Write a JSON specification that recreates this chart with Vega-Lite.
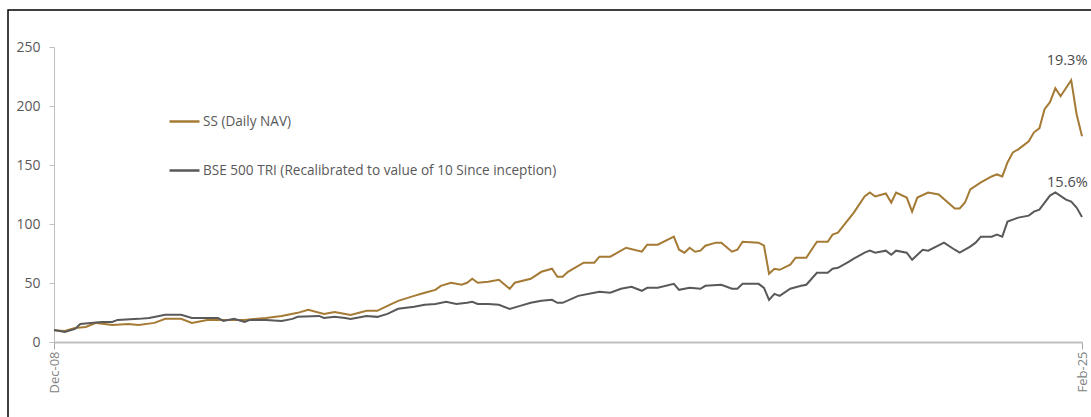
{
  "$schema": "https://vega.github.io/schema/vega-lite/v6.json",
  "autosize": "none",
  "width": 1085,
  "height": 409,
  "padding": {"left": 8, "top": 10, "right": -2, "bottom": -2},
  "background": "#ffffff",
  "config": {
    "view": {"stroke": "#000000", "strokeWidth": 1.5},
    "font": "Open Sans",
    "axis": {"labelFont": "Open Sans", "grid": false, "title": null},
    "legend": {"labelFont": "Open Sans"},
    "text": {"font": "Open Sans"}
  },
  "datasets": {
    "lines": [
      {"date": "2008-12-01", "series": "SS (Daily NAV)", "value": 10},
      {"date": "2009-02-01", "series": "SS (Daily NAV)", "value": 9.4},
      {"date": "2009-04-01", "series": "SS (Daily NAV)", "value": 11.9},
      {"date": "2009-06-01", "series": "SS (Daily NAV)", "value": 12.8},
      {"date": "2009-08-01", "series": "SS (Daily NAV)", "value": 16.2},
      {"date": "2009-11-01", "series": "SS (Daily NAV)", "value": 14.5},
      {"date": "2010-02-01", "series": "SS (Daily NAV)", "value": 15.3},
      {"date": "2010-04-01", "series": "SS (Daily NAV)", "value": 14.5},
      {"date": "2010-07-01", "series": "SS (Daily NAV)", "value": 16.2},
      {"date": "2010-09-01", "series": "SS (Daily NAV)", "value": 19.6},
      {"date": "2010-12-01", "series": "SS (Daily NAV)", "value": 19.6},
      {"date": "2011-02-01", "series": "SS (Daily NAV)", "value": 16.2},
      {"date": "2011-05-01", "series": "SS (Daily NAV)", "value": 18.7},
      {"date": "2011-07-01", "series": "SS (Daily NAV)", "value": 18.7},
      {"date": "2011-10-01", "series": "SS (Daily NAV)", "value": 18.7},
      {"date": "2011-12-01", "series": "SS (Daily NAV)", "value": 18.7},
      {"date": "2012-04-01", "series": "SS (Daily NAV)", "value": 20.4},
      {"date": "2012-07-01", "series": "SS (Daily NAV)", "value": 22.1},
      {"date": "2012-10-01", "series": "SS (Daily NAV)", "value": 24.7},
      {"date": "2012-12-01", "series": "SS (Daily NAV)", "value": 27.2},
      {"date": "2013-03-01", "series": "SS (Daily NAV)", "value": 23.8},
      {"date": "2013-05-01", "series": "SS (Daily NAV)", "value": 25.5},
      {"date": "2013-08-01", "series": "SS (Daily NAV)", "value": 23.0},
      {"date": "2013-11-01", "series": "SS (Daily NAV)", "value": 26.4},
      {"date": "2014-01-01", "series": "SS (Daily NAV)", "value": 26.4},
      {"date": "2014-03-01", "series": "SS (Daily NAV)", "value": 30.6},
      {"date": "2014-05-01", "series": "SS (Daily NAV)", "value": 34.9},
      {"date": "2014-08-01", "series": "SS (Daily NAV)", "value": 39.1},
      {"date": "2014-10-01", "series": "SS (Daily NAV)", "value": 41.7},
      {"date": "2014-12-01", "series": "SS (Daily NAV)", "value": 44.2},
      {"date": "2015-01-01", "series": "SS (Daily NAV)", "value": 47.6},
      {"date": "2015-03-01", "series": "SS (Daily NAV)", "value": 50.2},
      {"date": "2015-05-01", "series": "SS (Daily NAV)", "value": 48.5},
      {"date": "2015-06-01", "series": "SS (Daily NAV)", "value": 50.2},
      {"date": "2015-07-01", "series": "SS (Daily NAV)", "value": 53.6},
      {"date": "2015-08-01", "series": "SS (Daily NAV)", "value": 50.2},
      {"date": "2015-10-01", "series": "SS (Daily NAV)", "value": 51.0},
      {"date": "2015-12-01", "series": "SS (Daily NAV)", "value": 52.7},
      {"date": "2016-02-01", "series": "SS (Daily NAV)", "value": 45.1},
      {"date": "2016-03-01", "series": "SS (Daily NAV)", "value": 50.2},
      {"date": "2016-06-01", "series": "SS (Daily NAV)", "value": 53.6},
      {"date": "2016-08-01", "series": "SS (Daily NAV)", "value": 59.5},
      {"date": "2016-10-01", "series": "SS (Daily NAV)", "value": 62.1},
      {"date": "2016-11-01", "series": "SS (Daily NAV)", "value": 55.3},
      {"date": "2016-12-01", "series": "SS (Daily NAV)", "value": 55.3},
      {"date": "2017-01-01", "series": "SS (Daily NAV)", "value": 59.5},
      {"date": "2017-04-01", "series": "SS (Daily NAV)", "value": 67.2},
      {"date": "2017-06-01", "series": "SS (Daily NAV)", "value": 67.2},
      {"date": "2017-07-01", "series": "SS (Daily NAV)", "value": 72.3},
      {"date": "2017-09-01", "series": "SS (Daily NAV)", "value": 72.3},
      {"date": "2017-12-01", "series": "SS (Daily NAV)", "value": 79.9},
      {"date": "2018-03-01", "series": "SS (Daily NAV)", "value": 76.5},
      {"date": "2018-04-01", "series": "SS (Daily NAV)", "value": 82.5},
      {"date": "2018-06-01", "series": "SS (Daily NAV)", "value": 82.5},
      {"date": "2018-09-01", "series": "SS (Daily NAV)", "value": 89.3},
      {"date": "2018-10-01", "series": "SS (Daily NAV)", "value": 78.2},
      {"date": "2018-11-01", "series": "SS (Daily NAV)", "value": 75.7},
      {"date": "2018-12-01", "series": "SS (Daily NAV)", "value": 79.9},
      {"date": "2019-01-01", "series": "SS (Daily NAV)", "value": 76.5},
      {"date": "2019-02-01", "series": "SS (Daily NAV)", "value": 77.4},
      {"date": "2019-03-01", "series": "SS (Daily NAV)", "value": 81.6},
      {"date": "2019-05-01", "series": "SS (Daily NAV)", "value": 84.2},
      {"date": "2019-06-01", "series": "SS (Daily NAV)", "value": 84.2},
      {"date": "2019-08-01", "series": "SS (Daily NAV)", "value": 76.5},
      {"date": "2019-09-01", "series": "SS (Daily NAV)", "value": 78.2},
      {"date": "2019-10-01", "series": "SS (Daily NAV)", "value": 85.0},
      {"date": "2020-01-01", "series": "SS (Daily NAV)", "value": 84.2},
      {"date": "2020-02-01", "series": "SS (Daily NAV)", "value": 81.6},
      {"date": "2020-03-01", "series": "SS (Daily NAV)", "value": 57.8},
      {"date": "2020-04-01", "series": "SS (Daily NAV)", "value": 62.1},
      {"date": "2020-05-01", "series": "SS (Daily NAV)", "value": 61.2},
      {"date": "2020-07-01", "series": "SS (Daily NAV)", "value": 65.5},
      {"date": "2020-08-01", "series": "SS (Daily NAV)", "value": 71.4},
      {"date": "2020-10-01", "series": "SS (Daily NAV)", "value": 71.4},
      {"date": "2020-12-01", "series": "SS (Daily NAV)", "value": 85.0},
      {"date": "2021-02-01", "series": "SS (Daily NAV)", "value": 85.0},
      {"date": "2021-03-01", "series": "SS (Daily NAV)", "value": 91.0},
      {"date": "2021-04-01", "series": "SS (Daily NAV)", "value": 92.7},
      {"date": "2021-07-01", "series": "SS (Daily NAV)", "value": 109.7},
      {"date": "2021-09-01", "series": "SS (Daily NAV)", "value": 123.3},
      {"date": "2021-10-01", "series": "SS (Daily NAV)", "value": 126.7},
      {"date": "2021-11-01", "series": "SS (Daily NAV)", "value": 123.3},
      {"date": "2022-01-01", "series": "SS (Daily NAV)", "value": 125.9},
      {"date": "2022-02-01", "series": "SS (Daily NAV)", "value": 118.2},
      {"date": "2022-03-01", "series": "SS (Daily NAV)", "value": 126.7},
      {"date": "2022-05-01", "series": "SS (Daily NAV)", "value": 122.4},
      {"date": "2022-06-01", "series": "SS (Daily NAV)", "value": 110.5},
      {"date": "2022-07-01", "series": "SS (Daily NAV)", "value": 122.4},
      {"date": "2022-09-01", "series": "SS (Daily NAV)", "value": 126.7},
      {"date": "2022-11-01", "series": "SS (Daily NAV)", "value": 125.0},
      {"date": "2023-02-01", "series": "SS (Daily NAV)", "value": 113.1},
      {"date": "2023-03-01", "series": "SS (Daily NAV)", "value": 113.1},
      {"date": "2023-04-01", "series": "SS (Daily NAV)", "value": 118.2},
      {"date": "2023-05-01", "series": "SS (Daily NAV)", "value": 129.3},
      {"date": "2023-07-01", "series": "SS (Daily NAV)", "value": 135.2},
      {"date": "2023-09-01", "series": "SS (Daily NAV)", "value": 140.3},
      {"date": "2023-10-01", "series": "SS (Daily NAV)", "value": 142.0},
      {"date": "2023-11-01", "series": "SS (Daily NAV)", "value": 140.3},
      {"date": "2023-12-01", "series": "SS (Daily NAV)", "value": 152.2},
      {"date": "2024-01-01", "series": "SS (Daily NAV)", "value": 160.7},
      {"date": "2024-02-01", "series": "SS (Daily NAV)", "value": 163.3},
      {"date": "2024-04-01", "series": "SS (Daily NAV)", "value": 170.1},
      {"date": "2024-05-01", "series": "SS (Daily NAV)", "value": 177.7},
      {"date": "2024-06-01", "series": "SS (Daily NAV)", "value": 181.1},
      {"date": "2024-07-01", "series": "SS (Daily NAV)", "value": 197.3},
      {"date": "2024-08-01", "series": "SS (Daily NAV)", "value": 203.2},
      {"date": "2024-09-01", "series": "SS (Daily NAV)", "value": 215.1},
      {"date": "2024-10-01", "series": "SS (Daily NAV)", "value": 208.3},
      {"date": "2024-12-01", "series": "SS (Daily NAV)", "value": 221.9},
      {"date": "2025-01-01", "series": "SS (Daily NAV)", "value": 193.0},
      {"date": "2025-02-01", "series": "SS (Daily NAV)", "value": 174.3},
      {"date": "2008-12-01", "series": "BSE 500 TRI (Recalibrated to value of 10 Since inception)", "value": 10.2},
      {"date": "2009-02-01", "series": "BSE 500 TRI (Recalibrated to value of 10 Since inception)", "value": 8.5},
      {"date": "2009-04-01", "series": "BSE 500 TRI (Recalibrated to value of 10 Since inception)", "value": 11.1},
      {"date": "2009-05-01", "series": "BSE 500 TRI (Recalibrated to value of 10 Since inception)", "value": 15.3},
      {"date": "2009-07-01", "series": "BSE 500 TRI (Recalibrated to value of 10 Since inception)", "value": 16.2},
      {"date": "2009-09-01", "series": "BSE 500 TRI (Recalibrated to value of 10 Since inception)", "value": 17.0},
      {"date": "2009-11-01", "series": "BSE 500 TRI (Recalibrated to value of 10 Since inception)", "value": 17.0},
      {"date": "2009-12-01", "series": "BSE 500 TRI (Recalibrated to value of 10 Since inception)", "value": 18.7},
      {"date": "2010-04-01", "series": "BSE 500 TRI (Recalibrated to value of 10 Since inception)", "value": 19.6},
      {"date": "2010-06-01", "series": "BSE 500 TRI (Recalibrated to value of 10 Since inception)", "value": 20.4},
      {"date": "2010-09-01", "series": "BSE 500 TRI (Recalibrated to value of 10 Since inception)", "value": 23.0},
      {"date": "2010-12-01", "series": "BSE 500 TRI (Recalibrated to value of 10 Since inception)", "value": 23.0},
      {"date": "2011-02-01", "series": "BSE 500 TRI (Recalibrated to value of 10 Since inception)", "value": 20.4},
      {"date": "2011-04-01", "series": "BSE 500 TRI (Recalibrated to value of 10 Since inception)", "value": 20.4},
      {"date": "2011-07-01", "series": "BSE 500 TRI (Recalibrated to value of 10 Since inception)", "value": 20.4},
      {"date": "2011-08-01", "series": "BSE 500 TRI (Recalibrated to value of 10 Since inception)", "value": 17.9},
      {"date": "2011-10-01", "series": "BSE 500 TRI (Recalibrated to value of 10 Since inception)", "value": 19.6},
      {"date": "2011-12-01", "series": "BSE 500 TRI (Recalibrated to value of 10 Since inception)", "value": 17.0},
      {"date": "2012-01-01", "series": "BSE 500 TRI (Recalibrated to value of 10 Since inception)", "value": 18.7},
      {"date": "2012-04-01", "series": "BSE 500 TRI (Recalibrated to value of 10 Since inception)", "value": 18.7},
      {"date": "2012-07-01", "series": "BSE 500 TRI (Recalibrated to value of 10 Since inception)", "value": 17.9},
      {"date": "2012-09-01", "series": "BSE 500 TRI (Recalibrated to value of 10 Since inception)", "value": 19.6},
      {"date": "2012-10-01", "series": "BSE 500 TRI (Recalibrated to value of 10 Since inception)", "value": 21.3},
      {"date": "2013-02-01", "series": "BSE 500 TRI (Recalibrated to value of 10 Since inception)", "value": 22.1},
      {"date": "2013-03-01", "series": "BSE 500 TRI (Recalibrated to value of 10 Since inception)", "value": 20.4},
      {"date": "2013-05-01", "series": "BSE 500 TRI (Recalibrated to value of 10 Since inception)", "value": 21.3},
      {"date": "2013-07-01", "series": "BSE 500 TRI (Recalibrated to value of 10 Since inception)", "value": 20.4},
      {"date": "2013-08-01", "series": "BSE 500 TRI (Recalibrated to value of 10 Since inception)", "value": 19.6},
      {"date": "2013-11-01", "series": "BSE 500 TRI (Recalibrated to value of 10 Since inception)", "value": 22.1},
      {"date": "2014-01-01", "series": "BSE 500 TRI (Recalibrated to value of 10 Since inception)", "value": 21.3},
      {"date": "2014-03-01", "series": "BSE 500 TRI (Recalibrated to value of 10 Since inception)", "value": 23.8},
      {"date": "2014-05-01", "series": "BSE 500 TRI (Recalibrated to value of 10 Since inception)", "value": 28.1},
      {"date": "2014-08-01", "series": "BSE 500 TRI (Recalibrated to value of 10 Since inception)", "value": 29.8},
      {"date": "2014-10-01", "series": "BSE 500 TRI (Recalibrated to value of 10 Since inception)", "value": 31.5},
      {"date": "2014-12-01", "series": "BSE 500 TRI (Recalibrated to value of 10 Since inception)", "value": 32.3},
      {"date": "2015-02-01", "series": "BSE 500 TRI (Recalibrated to value of 10 Since inception)", "value": 34.0},
      {"date": "2015-04-01", "series": "BSE 500 TRI (Recalibrated to value of 10 Since inception)", "value": 32.3},
      {"date": "2015-06-01", "series": "BSE 500 TRI (Recalibrated to value of 10 Since inception)", "value": 33.2},
      {"date": "2015-07-01", "series": "BSE 500 TRI (Recalibrated to value of 10 Since inception)", "value": 34.0},
      {"date": "2015-08-01", "series": "BSE 500 TRI (Recalibrated to value of 10 Since inception)", "value": 32.3},
      {"date": "2015-10-01", "series": "BSE 500 TRI (Recalibrated to value of 10 Since inception)", "value": 32.3},
      {"date": "2015-12-01", "series": "BSE 500 TRI (Recalibrated to value of 10 Since inception)", "value": 31.5},
      {"date": "2016-02-01", "series": "BSE 500 TRI (Recalibrated to value of 10 Since inception)", "value": 28.1},
      {"date": "2016-04-01", "series": "BSE 500 TRI (Recalibrated to value of 10 Since inception)", "value": 30.6},
      {"date": "2016-06-01", "series": "BSE 500 TRI (Recalibrated to value of 10 Since inception)", "value": 33.2},
      {"date": "2016-08-01", "series": "BSE 500 TRI (Recalibrated to value of 10 Since inception)", "value": 34.9},
      {"date": "2016-10-01", "series": "BSE 500 TRI (Recalibrated to value of 10 Since inception)", "value": 35.7},
      {"date": "2016-11-01", "series": "BSE 500 TRI (Recalibrated to value of 10 Since inception)", "value": 33.2},
      {"date": "2016-12-01", "series": "BSE 500 TRI (Recalibrated to value of 10 Since inception)", "value": 33.2},
      {"date": "2017-03-01", "series": "BSE 500 TRI (Recalibrated to value of 10 Since inception)", "value": 39.1},
      {"date": "2017-06-01", "series": "BSE 500 TRI (Recalibrated to value of 10 Since inception)", "value": 41.7},
      {"date": "2017-07-01", "series": "BSE 500 TRI (Recalibrated to value of 10 Since inception)", "value": 42.5},
      {"date": "2017-09-01", "series": "BSE 500 TRI (Recalibrated to value of 10 Since inception)", "value": 41.7},
      {"date": "2017-11-01", "series": "BSE 500 TRI (Recalibrated to value of 10 Since inception)", "value": 45.1},
      {"date": "2018-01-01", "series": "BSE 500 TRI (Recalibrated to value of 10 Since inception)", "value": 46.8},
      {"date": "2018-03-01", "series": "BSE 500 TRI (Recalibrated to value of 10 Since inception)", "value": 43.4},
      {"date": "2018-04-01", "series": "BSE 500 TRI (Recalibrated to value of 10 Since inception)", "value": 45.9},
      {"date": "2018-06-01", "series": "BSE 500 TRI (Recalibrated to value of 10 Since inception)", "value": 45.9},
      {"date": "2018-09-01", "series": "BSE 500 TRI (Recalibrated to value of 10 Since inception)", "value": 49.3},
      {"date": "2018-10-01", "series": "BSE 500 TRI (Recalibrated to value of 10 Since inception)", "value": 44.2},
      {"date": "2018-12-01", "series": "BSE 500 TRI (Recalibrated to value of 10 Since inception)", "value": 45.9},
      {"date": "2019-02-01", "series": "BSE 500 TRI (Recalibrated to value of 10 Since inception)", "value": 45.1},
      {"date": "2019-03-01", "series": "BSE 500 TRI (Recalibrated to value of 10 Since inception)", "value": 47.6},
      {"date": "2019-06-01", "series": "BSE 500 TRI (Recalibrated to value of 10 Since inception)", "value": 48.5},
      {"date": "2019-08-01", "series": "BSE 500 TRI (Recalibrated to value of 10 Since inception)", "value": 45.1},
      {"date": "2019-09-01", "series": "BSE 500 TRI (Recalibrated to value of 10 Since inception)", "value": 45.1},
      {"date": "2019-10-01", "series": "BSE 500 TRI (Recalibrated to value of 10 Since inception)", "value": 49.3},
      {"date": "2020-01-01", "series": "BSE 500 TRI (Recalibrated to value of 10 Since inception)", "value": 49.3},
      {"date": "2020-02-01", "series": "BSE 500 TRI (Recalibrated to value of 10 Since inception)", "value": 45.9},
      {"date": "2020-03-01", "series": "BSE 500 TRI (Recalibrated to value of 10 Since inception)", "value": 35.7},
      {"date": "2020-04-01", "series": "BSE 500 TRI (Recalibrated to value of 10 Since inception)", "value": 40.8},
      {"date": "2020-05-01", "series": "BSE 500 TRI (Recalibrated to value of 10 Since inception)", "value": 39.1},
      {"date": "2020-07-01", "series": "BSE 500 TRI (Recalibrated to value of 10 Since inception)", "value": 45.1},
      {"date": "2020-09-01", "series": "BSE 500 TRI (Recalibrated to value of 10 Since inception)", "value": 47.6},
      {"date": "2020-10-01", "series": "BSE 500 TRI (Recalibrated to value of 10 Since inception)", "value": 48.5},
      {"date": "2020-12-01", "series": "BSE 500 TRI (Recalibrated to value of 10 Since inception)", "value": 58.7},
      {"date": "2021-02-01", "series": "BSE 500 TRI (Recalibrated to value of 10 Since inception)", "value": 58.7},
      {"date": "2021-03-01", "series": "BSE 500 TRI (Recalibrated to value of 10 Since inception)", "value": 62.1},
      {"date": "2021-04-01", "series": "BSE 500 TRI (Recalibrated to value of 10 Since inception)", "value": 62.9},
      {"date": "2021-06-01", "series": "BSE 500 TRI (Recalibrated to value of 10 Since inception)", "value": 68.0},
      {"date": "2021-07-01", "series": "BSE 500 TRI (Recalibrated to value of 10 Since inception)", "value": 70.6},
      {"date": "2021-09-01", "series": "BSE 500 TRI (Recalibrated to value of 10 Since inception)", "value": 75.7},
      {"date": "2021-10-01", "series": "BSE 500 TRI (Recalibrated to value of 10 Since inception)", "value": 77.4},
      {"date": "2021-11-01", "series": "BSE 500 TRI (Recalibrated to value of 10 Since inception)", "value": 75.7},
      {"date": "2022-01-01", "series": "BSE 500 TRI (Recalibrated to value of 10 Since inception)", "value": 77.4},
      {"date": "2022-02-01", "series": "BSE 500 TRI (Recalibrated to value of 10 Since inception)", "value": 74.0},
      {"date": "2022-03-01", "series": "BSE 500 TRI (Recalibrated to value of 10 Since inception)", "value": 77.4},
      {"date": "2022-05-01", "series": "BSE 500 TRI (Recalibrated to value of 10 Since inception)", "value": 75.7},
      {"date": "2022-06-01", "series": "BSE 500 TRI (Recalibrated to value of 10 Since inception)", "value": 69.7},
      {"date": "2022-08-01", "series": "BSE 500 TRI (Recalibrated to value of 10 Since inception)", "value": 78.2},
      {"date": "2022-09-01", "series": "BSE 500 TRI (Recalibrated to value of 10 Since inception)", "value": 77.4},
      {"date": "2022-12-01", "series": "BSE 500 TRI (Recalibrated to value of 10 Since inception)", "value": 84.2},
      {"date": "2023-02-01", "series": "BSE 500 TRI (Recalibrated to value of 10 Since inception)", "value": 78.2},
      {"date": "2023-03-01", "series": "BSE 500 TRI (Recalibrated to value of 10 Since inception)", "value": 75.7},
      {"date": "2023-05-01", "series": "BSE 500 TRI (Recalibrated to value of 10 Since inception)", "value": 80.8},
      {"date": "2023-06-01", "series": "BSE 500 TRI (Recalibrated to value of 10 Since inception)", "value": 84.2},
      {"date": "2023-07-01", "series": "BSE 500 TRI (Recalibrated to value of 10 Since inception)", "value": 89.3},
      {"date": "2023-09-01", "series": "BSE 500 TRI (Recalibrated to value of 10 Since inception)", "value": 89.3},
      {"date": "2023-10-01", "series": "BSE 500 TRI (Recalibrated to value of 10 Since inception)", "value": 91.0},
      {"date": "2023-11-01", "series": "BSE 500 TRI (Recalibrated to value of 10 Since inception)", "value": 89.3},
      {"date": "2023-12-01", "series": "BSE 500 TRI (Recalibrated to value of 10 Since inception)", "value": 102.0},
      {"date": "2024-02-01", "series": "BSE 500 TRI (Recalibrated to value of 10 Since inception)", "value": 105.4},
      {"date": "2024-04-01", "series": "BSE 500 TRI (Recalibrated to value of 10 Since inception)", "value": 107.1},
      {"date": "2024-05-01", "series": "BSE 500 TRI (Recalibrated to value of 10 Since inception)", "value": 110.5},
      {"date": "2024-06-01", "series": "BSE 500 TRI (Recalibrated to value of 10 Since inception)", "value": 112.2},
      {"date": "2024-08-01", "series": "BSE 500 TRI (Recalibrated to value of 10 Since inception)", "value": 124.1},
      {"date": "2024-09-01", "series": "BSE 500 TRI (Recalibrated to value of 10 Since inception)", "value": 126.7},
      {"date": "2024-11-01", "series": "BSE 500 TRI (Recalibrated to value of 10 Since inception)", "value": 120.7},
      {"date": "2024-12-01", "series": "BSE 500 TRI (Recalibrated to value of 10 Since inception)", "value": 119.0},
      {"date": "2025-01-01", "series": "BSE 500 TRI (Recalibrated to value of 10 Since inception)", "value": 113.9},
      {"date": "2025-02-01", "series": "BSE 500 TRI (Recalibrated to value of 10 Since inception)", "value": 106.0}
    ],
    "labels": [
      {"date": "2024-11-07", "value": 238, "label": "19.3%"},
      {"date": "2024-11-09", "value": 135, "label": "15.6%"}
    ]
  },
  "layer": [
    {
      "data": {"name": "lines"},
      "mark": {"type": "line", "strokeWidth": 2, "interpolate": "linear"},
      "encoding": {
        "x": {
          "field": "date",
          "type": "temporal",
          "scale": {
            "type": "utc",
            "domain": [
              {"year": 2008, "month": 12, "date": 1, "utc": true},
              {"year": 2025, "month": 2, "date": 1, "utc": true}
            ],
            "range": [46, 1074]
          },
          "axis": {
            "values": [
              {"year": 2008, "month": 12, "date": 1, "utc": true},
              {"year": 2025, "month": 2, "date": 1, "utc": true}
            ],
            "labelExpr": "utcFormat(datum.value, '%b-%y')",
            "labelAngle": -90,
            "labelFlush": false,
            "labelOverlap": false,
            "labelFontSize": 13,
            "labelColor": "#7f7f7f",
            "labelPadding": 2,
            "domainColor": "#bfbfbf",
            "domainWidth": 2,
            "tickColor": "#a6a6a6",
            "tickSize": 7,
            "offset": -77
          }
        },
        "y": {
          "field": "value",
          "type": "quantitative",
          "scale": {"domain": [0, 250], "range": [332, 37], "nice": false, "zero": false},
          "axis": {
            "values": [0, 50, 100, 150, 200, 250],
            "labelFontSize": 14,
            "labelColor": "#595959",
            "labelPadding": 9,
            "domainColor": "#bfbfbf",
            "tickColor": "#bfbfbf",
            "tickSize": 5,
            "offset": -46
          }
        },
        "color": {
          "field": "series",
          "type": "nominal",
          "scale": {
            "domain": ["SS (Daily NAV)", "BSE 500 TRI (Recalibrated to value of 10 Since inception)"],
            "range": ["#A47A34", "#595959"]
          },
          "legend": {
            "orient": "none",
            "legendX": 160,
            "legendY": 95,
            "title": null,
            "symbolType": "stroke",
            "symbolSize": 900,
            "symbolStrokeWidth": 2.5,
            "rowPadding": 25,
            "labelFontSize": 13.6,
            "labelColor": "#595959",
            "labelLimit": 0,
            "labelOffset": 2,
            "padding": 0
          }
        }
      }
    },
    {
      "data": {"name": "labels"},
      "mark": {"type": "text", "fontSize": 14.5, "color": "#4a4a4a", "align": "center", "baseline": "middle"},
      "encoding": {
        "x": {"field": "date", "type": "temporal"},
        "y": {"field": "value", "type": "quantitative"},
        "text": {"field": "label", "type": "nominal"}
      }
    }
  ]
}
